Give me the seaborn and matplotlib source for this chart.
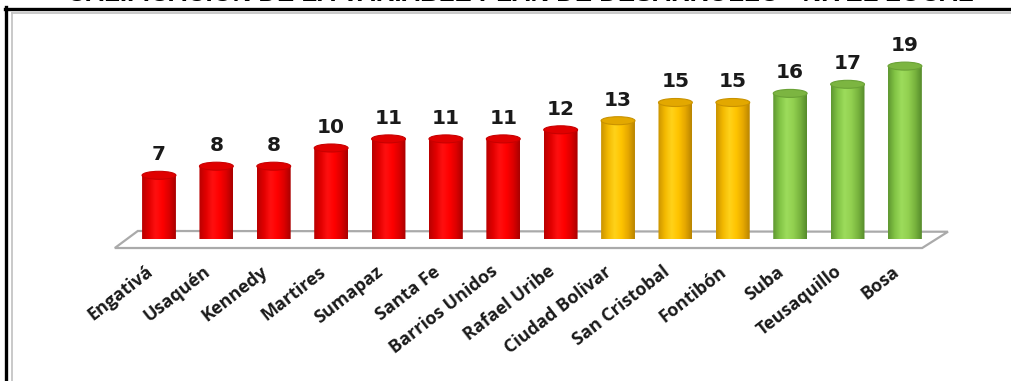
import numpy as np
import pandas as pd
import matplotlib
matplotlib.use("Agg")
import matplotlib.pyplot as plt
import seaborn as sns
from matplotlib.path import Path
from matplotlib.patches import Ellipse, Polygon, PathPatch, Rectangle
from matplotlib.colors import LinearSegmentedColormap
from matplotlib.lines import Line2D
from matplotlib.transforms import ScaledTranslation

# ---------------- data ----------------
localidades = ["Engativá", "Usaquén", "Kennedy", "Martires", "Sumapaz", "Santa Fe",
               "Barrios Unidos", "Rafael Uribe", "Ciudad Bolivar", "San Cristobal",
               "Fontibón", "Suba", "Teusaquillo", "Bosa"]
calificacion = [7, 8, 8, 10, 11, 11, 11, 12, 13, 15, 15, 16, 17, 19]
nivel = ["rojo"] * 8 + ["amarillo"] * 3 + ["verde"] * 3
titulo = "CALIFICACIÓN DE LA VARIABLE PLAN DE DESARROLLO - NIVEL LOCAL"

base_color = {"rojo": "#ff0000", "amarillo": "#ffc400", "verde": "#92d050"}
gradients = {
    "rojo": ["#b80000", "#e00000", "#ff1010", "#ff0000", "#dc0000", "#a80000"],
    "amarillo": ["#c99200", "#f2b800", "#ffd21a", "#ffc400", "#e6a800", "#b88400"],
    "verde": ["#5e9630", "#82c445", "#9ddc5c", "#92d050", "#78b43e", "#558a2a"],
}
cap_color = {"rojo": "#e00000", "amarillo": "#e3a800", "verde": "#7cb541"}
cap_edge = {"rojo": "#c80000", "amarillo": "#c99200", "verde": "#6aa236"}

df = pd.DataFrame({"localidad": localidades, "valor": calificacion, "nivel": nivel})

# ---------------- figure ----------------
W, H = 1012, 381
fig = plt.figure(figsize=(W / 100, H / 100), dpi=100)
fig.patch.set_facecolor("white")

px_unit_x = 57.38
px_unit_y = 9.1
x_first = 159
base_px = 239  # from top
left_px = x_first - 0.7 * px_unit_x
right_px = x_first + (len(localidades) - 1 + 0.7) * px_unit_x
top_px = 20
ax = fig.add_axes([left_px / W, (H - base_px) / H,
                   (right_px - left_px) / W, (base_px - top_px) / H])
ymax = (base_px - top_px) / px_unit_y
ax.set_xlim(-0.7, len(localidades) - 1 + 0.7)
ax.set_ylim(0, ymax)

sns.barplot(data=df, x="localidad", y="valor", hue="nivel",
            palette=base_color, dodge=False, width=0.59, legend=False,
            ax=ax, zorder=3, linewidth=0)

bars = [p for c in ax.containers for p in c
        if isinstance(p, Rectangle) and p.get_height() > 0]
bars = sorted(bars, key=lambda p: p.get_x())

for s in ax.spines.values():
    s.set_visible(False)
ax.set_yticks([])
ax.set_xlabel("")
ax.set_ylabel("")
ax.set_facecolor("none")

# floor (3D base plane)
n = len(localidades)
floor = Polygon([(-0.77, -0.99), (-0.37, 0.88), (n - 1 + 0.75, 0.80), (n - 1 + 0.30, -0.99)],
                closed=True, facecolor="white", edgecolor="#aaaaaa", lw=1.6,
                clip_on=False, zorder=1)
ax.add_patch(floor)

# cylinders
eh = 8 / px_unit_y
for p, lvl in zip(bars, nivel):
    x0, w, h = p.get_x(), p.get_width(), p.get_height()
    cx = x0 + w / 2
    t = np.linspace(np.pi, 2 * np.pi, 40)
    verts = [(x0, h), (x0, 0)] + [(cx + w / 2 * np.cos(a), eh / 2 * np.sin(a)) for a in t] + [(x0 + w, h), (x0, h)]
    path = Path(verts, closed=True)
    body = PathPatch(path, facecolor="none", edgecolor="none", transform=ax.transData)
    ax.add_patch(body)
    body.set_clip_on(False)
    cmap = LinearSegmentedColormap.from_list(lvl, gradients[lvl])
    grad = np.linspace(0, 1, 256).reshape(1, -1)
    im = ax.imshow(grad, cmap=cmap, extent=(x0, x0 + w, -eh / 2, h), aspect="auto",
                   zorder=4, interpolation="bicubic")
    im.set_clip_path(body)
    p.set_alpha(0)
    cap = Ellipse((cx, h), w, eh, facecolor=cap_color[lvl], edgecolor=cap_edge[lvl],
                  lw=0.8, zorder=5, clip_on=False)
    ax.add_patch(cap)

ax.set_xlim(-0.7, len(localidades) - 1 + 0.7)
ax.set_ylim(0, ymax)

# value labels
for c in ax.containers:
    ax.bar_label(c, labels=[f"{v:.0f}" if v > 0 else "" for v in c.datavalues],
                 padding=8, fontsize=14.5, fontweight="bold", family="DejaVu Sans",
                 color="#1a1a1a", zorder=6)

# x tick labels
ax.set_xticks(range(n))
ax.set_xticklabels(localidades, rotation=38, ha="right", va="center",
                   rotation_mode="anchor", fontsize=13, fontweight="bold",
                   family="Open Sans", color="#1a1a1a")
ax.tick_params(axis="x", length=0, pad=22)
off = ScaledTranslation(-0.08, 0, fig.dpi_scale_trans)
for lab in ax.get_xticklabels():
    lab.set_transform(lab.get_transform() + off)

# frame lines
fig.add_artist(Line2D([5 / W, 1], [1 - 8.5 / H, 1 - 8.5 / H], color="black", lw=2.4))
fig.add_artist(Line2D([6.5 / W, 6.5 / W], [0, 1 - 7 / H], color="black", lw=2.4))
fig.add_artist(Line2D([12 / W, 1], [1 - 12.5 / H, 1 - 12.5 / H], color="#c0c0c0", lw=1.2))
fig.add_artist(Line2D([12 / W, 12 / W], [0, 1 - 12.5 / H], color="#c0c0c0", lw=1.2))

# cut-off title (only its lower part shows, as in the source image)
fig.text(0.514, 1 - 1 / H, titulo, ha="center", va="baseline", fontsize=18.5,
         fontweight="bold", family="Liberation Sans", color="black")

fig.savefig("out.png", dpi=100)
